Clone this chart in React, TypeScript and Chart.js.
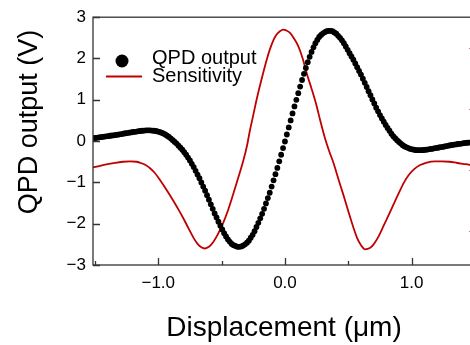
import React, { useEffect, useRef } from 'react';
import { Chart, registerables } from 'chart.js';

Chart.register(...registerables);

// Sampling grid of the QPD output measurement (µm)
const X_START = -1.515;
const X_STEP = 0.015;

// QPD output (V), one value per sample
const QPD_OUTPUT = [
  0.07, 0.075, 0.08, 0.09, 0.095, 0.10, 0.11, 0.115, 0.12, 0.13,
  0.135, 0.14, 0.15, 0.155, 0.165, 0.17, 0.18, 0.19, 0.195, 0.205,
  0.21, 0.22, 0.225, 0.23, 0.24, 0.245, 0.25, 0.255, 0.26, 0.26,
  0.26, 0.255, 0.25, 0.245, 0.235, 0.22, 0.205, 0.185, 0.16, 0.13,
  0.10, 0.06, 0.02, -0.02, -0.06, -0.11, -0.16, -0.21, -0.27, -0.33,
  -0.40, -0.47, -0.55, -0.63, -0.72, -0.81, -0.90, -1.00, -1.10, -1.20,
  -1.31, -1.42, -1.53, -1.64, -1.75, -1.85, -1.95, -2.05, -2.14, -2.23,
  -2.31, -2.38, -2.44, -2.49, -2.52, -2.54, -2.56, -2.56, -2.55, -2.53,
  -2.50, -2.46, -2.41, -2.34, -2.27, -2.18, -2.08, -1.98, -1.87, -1.76,
  -1.64, -1.51, -1.38, -1.25, -1.10, -0.95, -0.80, -0.65, -0.49, -0.33,
  -0.17, -0.01, 0.16, 0.33, 0.50, 0.67, 0.84, 1.00, 1.16, 1.32,
  1.48, 1.63, 1.77, 1.91, 2.04, 2.16, 2.27, 2.37, 2.45, 2.52,
  2.57, 2.61, 2.64, 2.66, 2.67, 2.67, 2.66, 2.63, 2.60, 2.55,
  2.50, 2.44, 2.37, 2.29, 2.21, 2.13, 2.05, 1.97, 1.88, 1.79,
  1.70, 1.61, 1.51, 1.41, 1.31, 1.21, 1.11, 1.01, 0.91, 0.81,
  0.72, 0.63, 0.55, 0.47, 0.39, 0.32, 0.25, 0.18, 0.12, 0.07,
  0.02, -0.02, -0.06, -0.10, -0.13, -0.15, -0.17, -0.19, -0.20, -0.21,
  -0.22, -0.22, -0.22, -0.22, -0.215, -0.21, -0.205, -0.195, -0.19, -0.18,
  -0.17, -0.165, -0.155, -0.145, -0.14, -0.13, -0.12, -0.11, -0.10, -0.095,
  -0.085, -0.08, -0.07, -0.065, -0.06, -0.05, -0.045, -0.04, -0.035, -0.03,
  -0.025, -0.02,
];

// Sensitivity curve
const SENS_X = [
  -1.515, -1.46, -1.40, -1.34, -1.28, -1.22, -1.17, -1.13, -1.10, -1.067,
  -1.03, -1.00, -0.962, -0.92, -0.88, -0.84, -0.80, -0.76, -0.72, -0.69,
  -0.66, -0.632, -0.60, -0.567, -0.53, -0.49, -0.45, -0.41, -0.37, -0.33,
  -0.30, -0.277, -0.25, -0.224, -0.20, -0.171, -0.145, -0.119, -0.09, -0.066,
  -0.04, -0.013, 0.01, 0.04, 0.07, 0.105, 0.14, 0.17, 0.21, 0.25,
  0.28, 0.316, 0.35, 0.382, 0.42, 0.46, 0.50, 0.54, 0.57, 0.60,
  0.632, 0.67, 0.70, 0.74, 0.78, 0.82, 0.856, 0.90, 0.94, 0.98,
  1.02, 1.067, 1.12, 1.18, 1.24, 1.30, 1.36, 1.43, 1.50,
];
const SENS_Y = [
  -0.64, -0.60, -0.56, -0.525, -0.50, -0.49, -0.50, -0.54, -0.58, -0.65,
  -0.76, -0.88, -1.05, -1.25, -1.45, -1.66, -1.88, -2.12, -2.35, -2.49,
  -2.57, -2.60, -2.56, -2.45, -2.26, -2.00, -1.68, -1.30, -0.90, -0.49,
  -0.12, 0.25, 0.63, 1.00, 1.31, 1.66, 1.96, 2.22, 2.45, 2.58,
  2.66, 2.70, 2.68, 2.62, 2.49, 2.30, 2.00, 1.66, 1.27, 0.85,
  0.48, 0.07, -0.25, -0.52, -0.90, -1.29, -1.70, -2.09, -2.35, -2.52,
  -2.62, -2.59, -2.50, -2.30, -2.04, -1.78, -1.54, -1.25, -1.00, -0.81,
  -0.68, -0.58, -0.52, -0.49, -0.49, -0.50, -0.53, -0.56, -0.60,
];

const X_TICKS = [-1.5, -1, -0.5, 0, 0.5, 1, 1.5];
const X_LABELED = [-1, 0, 1];
const Y2_TICKS = [2, 1, 0, -1];

const FONT = "'Liberation Sans', Arial, sans-serif";
const BLACK = '#000000';
const RED = '#c00000';

const fmt = (v: number, d: number) => (v < 0 ? '\u2212' : '') + Math.abs(v).toFixed(d);

export default function App() {
  const ref = useRef<HTMLCanvasElement>(null);

  useEffect(() => {
    const canvas = ref.current!;
    const qpdPoints = QPD_OUTPUT.map((y, i) => ({ x: +(X_START + i * X_STEP).toFixed(3), y }));
    const sensPoints = SENS_X.map((x, i) => ({ x, y: SENS_Y[i] }));

    const decor = {
      id: 'decor',
      afterDraw(chart: any) {
        const { ctx, chartArea, scales } = chart;
        const { left, right, top, bottom } = chartArea;
        ctx.save();
        // frame
        ctx.strokeStyle = '#333';
        ctx.lineWidth = 1.3;
        ctx.strokeRect(left, top, right - left, bottom - top);
        // inward ticks
        ctx.beginPath();
        X_TICKS.forEach((v) => {
          const px = Math.round(scales.x.getPixelForValue(v)) + 0.5;
          const len = X_LABELED.includes(v) ? 7 : 4;
          ctx.moveTo(px, bottom);
          ctx.lineTo(px, bottom - len);
        });
        scales.y.ticks.forEach((t: any) => {
          const py = Math.round(scales.y.getPixelForValue(t.value)) + 0.5;
          ctx.moveTo(left, py);
          ctx.lineTo(left + 7, py);
        });
        ctx.stroke();
        // right (sensitivity) axis ticks
        ctx.strokeStyle = '#e07080';
        ctx.lineWidth = 1;
        ctx.beginPath();
        Y2_TICKS.forEach((v) => {
          const py = Math.round(scales.y2.getPixelForValue(v)) + 0.5;
          ctx.moveTo(right, py);
          ctx.lineTo(right - 6, py);
        });
        ctx.stroke();
        // y axis title
        ctx.fillStyle = '#000';
        ctx.font = `27px ${FONT}`;
        ctx.textAlign = 'center';
        ctx.textBaseline = 'middle';
        ctx.translate(30, 122);
        ctx.rotate(-Math.PI / 2);
        ctx.fillText('QPD output (V)', 0, 0);
        ctx.setTransform(1, 0, 0, 1, 0, 0);
        // legend
        const ds = chart.data.datasets;
        ctx.fillStyle = ds[0].backgroundColor;
        ctx.beginPath();
        ctx.arc(122, 61, 6.5, 0, Math.PI * 2);
        ctx.fill();
        ctx.strokeStyle = ds[1].borderColor;
        ctx.lineWidth = 2;
        ctx.beginPath();
        ctx.moveTo(106, 76.5);
        ctx.lineTo(142, 76.5);
        ctx.stroke();
        ctx.fillStyle = '#000';
        ctx.font = `20px ${FONT}`;
        ctx.textAlign = 'left';
        ctx.textBaseline = 'alphabetic';
        ctx.fillText(ds[0].label, 152, 63.5);
        ctx.fillText(ds[1].label, 152, 82);
        ctx.restore();
      },
    };

    const chart = new Chart(canvas, {
      type: 'scatter',
      data: {
        datasets: [
          {
            label: 'QPD output',
            data: qpdPoints,
            showLine: false,
            pointRadius: 2.9,
            pointBorderWidth: 0,
            backgroundColor: BLACK,
            borderColor: BLACK,
          },
          {
            label: 'Sensitivity',
            data: sensPoints,
            showLine: true,
            pointRadius: 0,
            borderColor: RED,
            backgroundColor: RED,
            borderWidth: 1.8,
            cubicInterpolationMode: 'monotone',
          },
        ],
      },
      options: {
        responsive: false,
        animation: false,
        events: [],
        layout: { padding: { top: 13, right: 15, left: 0, bottom: 0 } },
        plugins: { legend: { display: false }, tooltip: { enabled: false }, title: { display: false } },
        scales: {
          x: {
            type: 'linear',
            position: 'bottom',
            min: -1.515,
            max: 1.5,
            afterBuildTicks: (s: any) => {
              s.ticks = X_TICKS.map((v) => ({ value: v }));
            },
            afterFit: (s: any) => {
              s.height = 80;
            },
            ticks: {
              autoSkip: false,
              maxRotation: 0,
              padding: 8,
              color: '#000',
              font: { family: FONT, size: 17 },
              callback: (v: any) => (X_LABELED.includes(Number(v)) ? fmt(Number(v), 1) : ''),
            },
            grid: { display: false, drawTicks: false },
            border: { display: false },
            title: {
              display: true,
              text: 'Displacement (\u03bcm)',
              color: '#000',
              font: { family: FONT, size: 28 },
              padding: { top: 0, bottom: 0 },
            },
          },
          y: {
            type: 'linear',
            position: 'left',
            min: -3,
            max: 3,
            afterFit: (s: any) => {
              s.width = 93;
            },
            ticks: {
              stepSize: 1,
              padding: 7,
              color: '#000',
              font: { family: FONT, size: 17 },
              callback: (v: any) => fmt(Number(v), 0),
            },
            grid: { display: false, drawTicks: false },
            border: { display: false },
          },
          y2: {
            type: 'linear',
            position: 'right',
            min: -1.56,
            max: 2.5,
            afterFit: (s: any) => {
              s.width = 0;
            },
            ticks: { display: false, stepSize: 1 },
            grid: { display: false, drawTicks: false },
            border: { display: false },
          },
        },
      },
      plugins: [decor],
    } as any);

    return () => chart.destroy();
  }, []);

  return (
    <div
      style={{
        position: 'absolute',
        left: 0,
        top: 0,
        width: 470,
        height: 345,
        overflow: 'hidden',
        background: '#fff',
      }}
    >
      <canvas ref={ref} width={490} height={345} style={{ display: 'block', width: 490, height: 345 }} />
    </div>
  );
}
